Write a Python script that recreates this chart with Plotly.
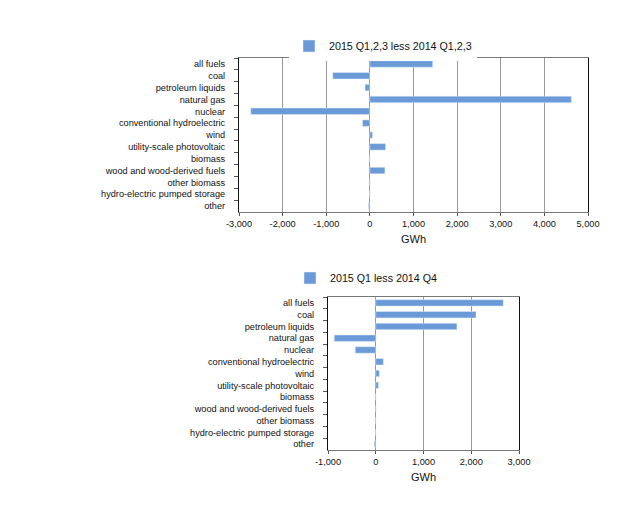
import plotly.graph_objects as go
from plotly.subplots import make_subplots

# fuel categories (same for both panels)
fuels = ['all fuels', 'coal', 'petroleum liquids', 'natural gas', 'nuclear',
         'conventional hydroelectric', 'wind', 'utility-scale photovoltaic',
         'biomass', 'wood and wood-derived fuels', 'other biomass',
         'hydro-electric pumped storage', 'other']

# GWh change, 2015 Q1-3 vs 2014 Q1-3
ytd_change = [1440, -850, -110, 4620, -2730, -170, 60, 360, 0, 345, 5, 0, -30]

# GWh change, 2015 Q1 vs 2014 Q4
q_change = [2670, 2100, 1700, -870, -430, 160, 75, 55, 0, 5, -10, 0, -30]

top_ticks = [-3000, -2000, -1000, 0, 1000, 2000, 3000, 4000, 5000]
top_labels = ['-3,000', '-2,000', '-1,000', '0', '1,000', '2,000', '3,000', '4,000', '5,000']
bottom_ticks = [-1000, 0, 1000, 2000, 3000]
bottom_labels = ['-1,000', '0', '1,000', '2,000', '3,000']

bar_color = '#6a9bd8'
font = dict(family='Liberation Sans, Arial, sans-serif', size=9.2, color='#111')

# page body has an 8px margin, so positions below are shifted by that
W, H, OFF = 640, 512, 8


def px_x(p):
    return (p - OFF) / W


def px_y(p):
    return 1 - (p - OFF) / H


fig = make_subplots(rows=2, cols=1)

fig.add_trace(go.Bar(x=ytd_change, y=fuels, orientation='h', marker_color=bar_color,
                     name='2015 Q1,2,3 less 2014 Q1,2,3', legend='legend',
                     showlegend=True),
              row=1, col=1)
fig.add_trace(go.Bar(x=q_change, y=fuels, orientation='h', marker_color=bar_color,
                     name='2015 Q1 less 2014 Q4', legend='legend2',
                     showlegend=True),
              row=2, col=1)

axis_x = dict(showgrid=True, gridcolor='#999', gridwidth=1, zeroline=True,
              zerolinecolor='#999', zerolinewidth=1, showline=True, mirror=True,
              linecolor='#777', linewidth=1, ticks='outside', ticklen=3,
              tickcolor='#555', ticklabelstandoff=0, automargin=False,
              title=dict(text='GWh', standoff=7))
axis_y = dict(autorange='reversed', showline=True, mirror=True, linecolor='#111',
              linewidth=1, ticks='outside', ticklen=4, tickcolor='#555',
              tickson='boundaries', showgrid=False, ticklabelstandoff=11,
              automargin=False)

fig.update_xaxes(axis_x, row=1, col=1, range=[-3000, 5000], tickvals=top_ticks,
                 ticktext=top_labels, domain=[px_x(239), px_x(588)])
fig.update_xaxes(axis_x, row=2, col=1, range=[-1000, 3000], tickvals=bottom_ticks,
                 ticktext=bottom_labels, domain=[px_x(328), px_x(519)])
fig.update_yaxes(axis_y, row=1, col=1, domain=[px_y(212), px_y(58)])
fig.update_yaxes(axis_y, row=2, col=1, domain=[px_y(450), px_y(297)])

fig.update_layout(
    width=W, height=H,
    margin=dict(l=0, r=0, t=0, b=0, autoexpand=False),
    paper_bgcolor='white', plot_bgcolor='white',
    font=font,
    bargap=0.45,
    showlegend=True,
    legend=dict(x=px_x(289), y=px_y(46), xanchor='left', yanchor='middle',
                orientation='h', itemwidth=30, font=dict(size=10.7)),
    legend2=dict(x=px_x(290), y=px_y(278), xanchor='left', yanchor='middle',
                 orientation='h', itemwidth=30, font=dict(size=10.7)),
)

fig.write_html('out.html')
